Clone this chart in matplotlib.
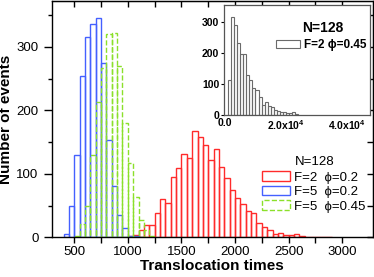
import numpy as np
import matplotlib
matplotlib.use('Agg')
import matplotlib.pyplot as plt
from matplotlib.patches import Patch

plt.rcParams['font.family'] = ['Liberation Sans', 'DejaVu Sans']
plt.rcParams['mathtext.fontset'] = 'custom'
plt.rcParams['mathtext.rm'] = 'Liberation Sans'
plt.rcParams['mathtext.bf'] = 'Liberation Sans:bold'

# main histograms, bin width 50 (left edges)
bin_w = 50
red_left = np.arange(1000, 2900, 50)
red_counts = [2, 4, 12, 20, 20, 38, 60, 55, 95, 109, 131, 125, 167, 158, 146, 122,
              139, 111, 94, 75, 62, 53, 41, 38, 23, 16, 12, 6, 7, 4, 4, 6, 2, 1,
              0, 0, 0, 1]
blue_left = np.arange(400, 1150, 50)
blue_counts = [5, 50, 130, 254, 316, 336, 345, 275, 154, 81, 35, 15, 3, 2, 1]
green_left = np.arange(500, 1250, 50)
green_counts = [3, 21, 50, 130, 213, 267, 320, 321, 269, 180, 117, 64, 27, 12, 2]

# inset histogram, bin width 1000
inset_w = 1000
inset_left = np.arange(1000, 24000, 1000)
inset_counts = [113, 314, 290, 232, 197, 195, 129, 113, 88, 79, 59, 32, 43, 28, 26,
                16, 13, 11, 9, 5, 7, 10, 3]

red = '#ff2b2b'
blue = '#4460ff'
green = '#8be02a'
gray = '#6a6a6a'

fig = plt.figure(figsize=(3.74, 2.77), dpi=100)
ax = fig.add_axes([0.138, 0.1426, 0.859, 0.854])

ax.bar(red_left, red_counts, width=bin_w, align='edge', fill=False, edgecolor=red, linewidth=1.0)
ax.bar(blue_left, blue_counts, width=bin_w, align='edge', fill=False, edgecolor=blue, linewidth=1.0)
ax.bar(green_left, green_counts, width=bin_w, align='edge', fill=False, edgecolor=green,
       linewidth=1.0, linestyle='--')

ax.set_xlim(289, 3286)
ax.set_ylim(0, 372)
ax.set_xticks([500, 1000, 1500, 2000, 2500, 3000])
ax.set_xticks(np.arange(500, 3250, 250), minor=True)
ax.set_yticks([0, 100, 200, 300])
ax.set_yticks(np.arange(0, 372, 50), minor=True)
ax.tick_params(axis='both', which='both', direction='out', labelsize=9.5, width=1.0)
ax.tick_params(axis='y', which='major', length=6)
ax.tick_params(axis='y', which='minor', length=3)
ax.tick_params(axis='x', which='both', length=4, pad=2)
for s in ax.spines.values():
    s.set_linewidth(1.0)

top = ax.secondary_xaxis('top')
top.set_xticks(np.arange(500, 3250, 250))
top.tick_params(direction='in', length=4, labeltop=False, width=1.0)
right = ax.secondary_yaxis('right')
right.set_yticks(np.arange(0, 372, 50))
right.tick_params(direction='in', length=4, labelright=False, width=1.0)

ax.set_xlabel('Translocation times', fontsize=11, fontweight='bold', labelpad=1)
ax.set_ylabel('Number of events', fontsize=11, fontweight='bold', labelpad=2)

handles = [Patch(facecolor='white', edgecolor=red, linewidth=1.0),
           Patch(facecolor='white', edgecolor=blue, linewidth=1.0),
           Patch(facecolor='white', edgecolor=green, linewidth=1.0, linestyle='--')]
labels = ['F=2  ϕ=0.2', 'F=5  ϕ=0.2', 'F=5  ϕ=0.45']
ax.legend(handles, labels, loc='upper left', bbox_to_anchor=(0.6545, 0.28),
          frameon=False, fontsize=9.5, borderpad=0, borderaxespad=0,
          handlelength=2.15, handleheight=0.75, handletextpad=0.25, labelspacing=0.15)
ax.text(0.757, 0.318, 'N=128', transform=ax.transAxes, fontsize=9.5, va='center', ha='left')

# inset
ins = fig.add_axes([0.599, 0.585, 0.39, 0.397])
ins.bar(inset_left, inset_counts, width=inset_w, align='edge', fill=False,
        edgecolor=gray, linewidth=0.8)
ins.set_xlim(-300, 47500)
ins.set_ylim(0, 354)
ins.set_xticks([0, 20000, 40000],
               labels=['0.0', r'2.0x10$^{\mathbf{4}}$', r'4.0x10$^{\mathbf{4}}$'])
ins.set_yticks([0, 100, 200, 300])
ins.tick_params(axis='both', direction='out', length=2.5, labelsize=7.5, pad=1, width=0.8)
ins.tick_params(axis='x', length=0, pad=2)
for lab in ins.get_xticklabels() + ins.get_yticklabels():
    lab.set_fontweight('bold')
for s in ins.spines.values():
    s.set_linewidth(0.9)
    s.set_edgecolor('#555555')
ins.text(0.534, 0.79, 'N=128', transform=ins.transAxes, fontsize=10, fontweight='bold',
         va='center', ha='left')
ins.legend([Patch(facecolor='white', edgecolor=gray, linewidth=0.8)], ['F=2 ϕ=0.45'],
           loc='upper left', bbox_to_anchor=(0.356, 0.69), frameon=False,
           prop={'size': 8.5, 'weight': 'bold'}, borderpad=0, borderaxespad=0,
           handlelength=2.0, handleheight=0.7, handletextpad=0.4)

fig.savefig('out.png', dpi=100)
